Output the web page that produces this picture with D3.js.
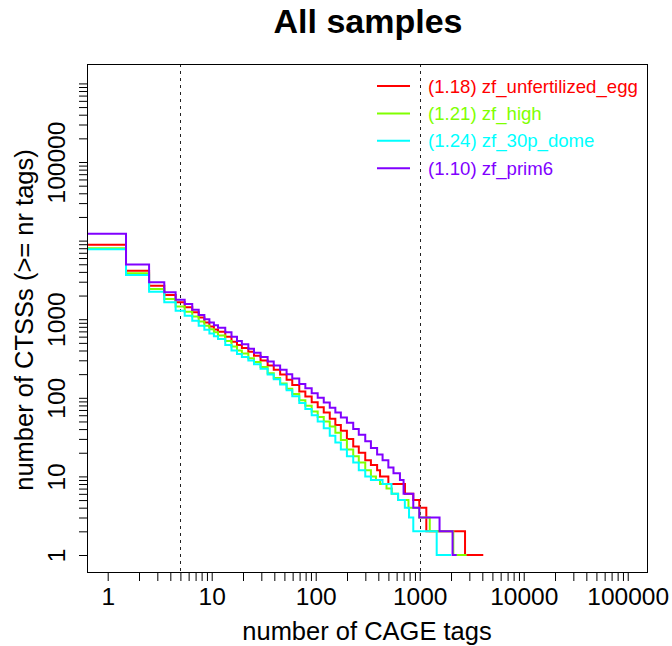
<!DOCTYPE html>
<html><head><meta charset="utf-8">
<script src="https://cdn.jsdelivr.net/npm/d3@7"></script>
<style>
html,body{margin:0;padding:0;background:#fff;}
svg{display:block;font-family:"Liberation Sans",Arial,Helvetica,sans-serif;}
</style></head>
<body>
<svg id="chart" width="672" height="646"></svg>
<script>
// ---- data ----
const seriesNames = ["zf_unfertilized_egg", "zf_high", "zf_30p_dome", "zf_prim6"];
const seriesFits = ["1.18", "1.21", "1.24", "1.10"];
const seriesColors = ["#FF0000", "#80FF00", "#00FFFF", "#8000FF"];

// tags (>= k) at which the count changes, and the number of CTSSs with >= k tags
const redTags   = [1,2,3,4,5,6,7,8,9,10,11,12,14,16,18,20,23,26,30,35,40,46,53,60,70,80,92,105,120,137,155,175,200,230,260,300,340,390,416,500,722,868,991,1158,2728];
const redCounts = [8840,4150,2670,2030,1640,1415,1222,1054,910,809,740,690,600,515,470,430,385,342,298,258,228,198,170,146,120,104,88,76,65,54,45,38,30,24,20,16,14,12,10,8,6,5,4,2,1];
const greenTags   = [1,2,3,4,5,6,7,8,9,10,11,12,14,16,18,20,23,26,30,35,40,46,53,60,70,80,92,105,120,137,155,175,200,230,260,300,340,380,416,480,540,620,780,991,1250,2104];
const greenCounts = [8020,3850,2420,1810,1456,1245,1086,937,824,747,680,620,530,450,400,365,318,286,246,205,178,152,130,112,93,79,67,57,50,43,36,29,22,18,15,12,10,9,8,7,6,5,4,3,2,1];
const cyanTags   = [1,2,3,4,5,6,7,8,9,10,11,12,14,16,18,20,23,26,30,35,40,46,53,60,70,80,92,105,120,137,155,175,200,230,260,300,340,440,536,620,720,790,868,1457];
const cyanCounts = [7790,3660,2240,1640,1280,1105,955,824,732,659,605,560,470,400,360,330,298,268,234,198,172,148,125,105,86,72,60,50,41,33,27,22,18,15,12,10,9,8,6,5,4,3,2,1];
const purpleTags   = [1,2,3,4,5,6,7,8,9,10,11,12,14,16,18,20,23,26,30,35,40,46,53,60,70,80,92,105,120,137,155,175,200,230,260,300,340,390,440,500,560,646,700,868,991,1552,2070];
const purpleCounts = [12200,4950,2950,2200,1770,1560,1318,1128,1000,910,840,780,680,600,530,480,420,375,330,290,258,228,200,176,150,132,114,100,87,75,65,56,48,40,34,28,23,19,16,13,11,9,6,4,3,2,1];
const maxTags = [4084, 2830, 2000, 2269];

const xTickLabels = ["1", "10", "100", "1000", "10000", "100000"];
const yTickLabels = ["1", "10", "100", "1000", "100000"];
const vLines = [5, 1000];
const titleText = "All samples";
const xLabelText = "number of CAGE tags";
const yLabelText = "number of CTSSs (>= nr tags)";

// ---- layout ----
const L = 87, R = 648, T = 64, B = 573;
const x = d3.scaleLog().domain([Math.pow(10, -0.199), Math.pow(10, 5.195)]).range([L, R]);
const y = d3.scaleLog().domain([Math.pow(10, -0.229), Math.pow(10, 6.247)]).range([B, T]);

const svg = d3.select("#chart");

svg.append("defs").append("clipPath").attr("id", "plotclip")
  .append("rect").attr("x", L).attr("y", T).attr("width", R - L).attr("height", B - T);

// minor/major log ticks
function logTicks(lo, hi) {
  const out = [];
  for (let e = lo; e <= hi; e++) for (let m = 1; m <= 9; m++) out.push(m * Math.pow(10, e));
  return out;
}
const xTicks = logTicks(0, 5).filter(v => x(v) <= R);
const yTicks = logTicks(0, 6).filter(v => y(v) >= T);

const xAxis = d3.axisBottom(x).tickValues(xTicks).tickSize(8)
  .tickFormat(v => { const s = String(Math.round(v)); return xTickLabels.includes(s) ? s : ""; });
const gx = svg.append("g").attr("transform", `translate(0,${B})`).call(xAxis);
gx.select(".domain").remove();
gx.selectAll(".tick line").attr("stroke", "#000");
gx.selectAll(".tick text").attr("y", 32).attr("dy", 0)
  .attr("font-size", 24.5).attr("fill", "#000").attr("font-family", "Liberation Sans, Arial, sans-serif");

const yAxis = d3.axisLeft(y).tickValues(yTicks).tickSize(8)
  .tickFormat(v => { const s = String(Math.round(v)); return yTickLabels.includes(s) ? s : ""; });
const gy = svg.append("g").attr("transform", `translate(${L},0)`).call(yAxis);
gy.select(".domain").remove();
gy.selectAll(".tick line").attr("stroke", "#000");
gy.selectAll(".tick text").attr("x", 0).attr("y", 0).attr("dy", 0)
  .attr("text-anchor", "middle")
  .attr("transform", `translate(${65 - L},0) rotate(-90)`)
  .attr("font-size", 24.5).attr("fill", "#000").attr("font-family", "Liberation Sans, Arial, sans-serif");

// dotted reference lines
svg.append("g").selectAll("line").data(vLines).join("line")
  .attr("x1", d => Math.round(x(d)) + 0.5).attr("x2", d => Math.round(x(d)) + 0.5)
  .attr("y1", T).attr("y2", B)
  .attr("stroke", "#222").attr("stroke-width", 1).attr("stroke-dasharray", "3,4");

// series
const tagsList = [redTags, greenTags, cyanTags, purpleTags];
const countsList = [redCounts, greenCounts, cyanCounts, purpleCounts];
const line = d3.line().x(d => x(d[0])).y(d => y(d[1])).curve(d3.curveStepAfter);
const gLines = svg.append("g").attr("clip-path", "url(#plotclip)");
tagsList.forEach((tags, i) => {
  const pts = tags.map((k, j) => [k - 0.5, countsList[i][j]]);
  pts.push([maxTags[i] + 0.5, countsList[i][countsList[i].length - 1]]);
  gLines.append("path").datum(pts)
    .attr("d", line).attr("fill", "none")
    .attr("stroke", seriesColors[i]).attr("stroke-width", 2);
});

// box
svg.append("rect").attr("x", L + 0.5).attr("y", T + 0.5).attr("width", R - L - 1).attr("height", B - T - 1)
  .attr("fill", "none").attr("stroke", "#000").attr("stroke-width", 1);

// legend
const legY0 = 86, legDY = 27.4;
const leg = svg.append("g");
seriesNames.forEach((n, i) => {
  const yy = legY0 + i * legDY;
  leg.append("line").attr("x1", 377).attr("x2", 410).attr("y1", yy).attr("y2", yy)
    .attr("stroke", seriesColors[i]).attr("stroke-width", 2);
  leg.append("text").attr("x", 428).attr("y", yy + 6.5)
    .attr("font-size", 18.6).attr("fill", seriesColors[i])
    .text(`(${seriesFits[i]}) ${n}`);
});

// titles
svg.append("text").attr("x", 368).attr("y", 33).attr("text-anchor", "middle")
  .attr("font-size", 34).attr("font-weight", "bold").text(titleText);
svg.append("text").attr("x", 367).attr("y", 640).attr("text-anchor", "middle")
  .attr("font-size", 25.5).text(xLabelText);
svg.append("text").attr("transform", `translate(33,320) rotate(-90)`).attr("text-anchor", "middle")
  .attr("font-size", 25.5).text(yLabelText);
</script>
</body></html>
